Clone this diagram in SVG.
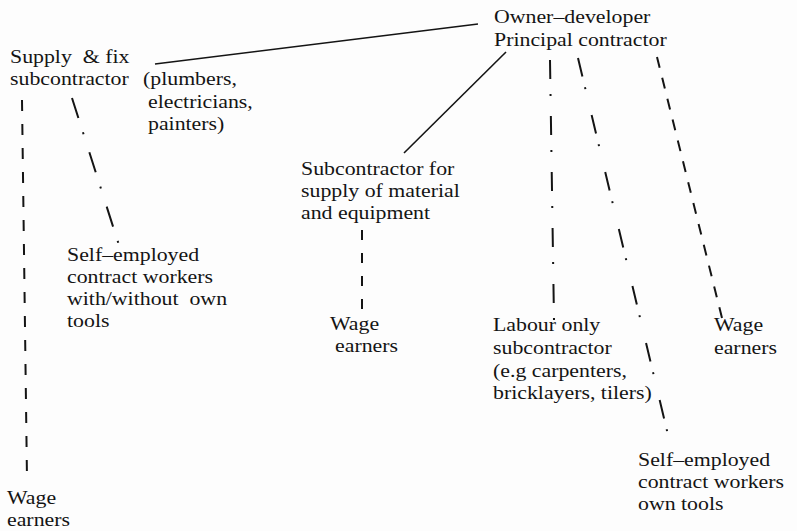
<svg xmlns="http://www.w3.org/2000/svg" width="797" height="531" viewBox="0 0 797 531">
<style>
text{font-family:"Liberation Serif","Times New Roman",serif;font-size:19.5px;fill:#141414}
.solid{fill:none;stroke:#141414;stroke-width:1.6}
.dash{fill:none;stroke:#141414;stroke-width:2;stroke-dasharray:11 12}
.dd{fill:none;stroke:#141414;stroke-width:2;stroke-dasharray:20 14 2 21}
</style>
<rect width="797" height="531" fill="#fdfdfd"/>
<g id="connectors">
<path class="solid" d="M155 64 L478 24"/>
<path class="solid" d="M404 153 L506 52"/>
<path class="dash" d="M22 100 L27 479" style="stroke-dasharray:11 13"/>
<path class="dd" d="M72 98 L118.3 243" style="stroke-dasharray:21 15 2 19"/>
<path class="dash" d="M362 230 L362 310" style="stroke-dasharray:10 13"/>
<path class="dd" d="M550 60 L554 320" style="stroke-dasharray:19 15 2 20"/>
<path class="dd" d="M578 58 L667.3 432" style="stroke-dasharray:19 11 2 26.6"/>
<path class="dash" d="M657 57 L722 318" style="stroke-dasharray:11 10.5"/>
</g>
<g id="owner" transform="translate(494 0) scale(1.12 1)">
<text x="0" y="23">Owner–developer<tspan x="0" dy="23">Principal contractor</tspan></text>
</g>
<g id="supply-fix" transform="translate(10 0) scale(1.12 1)">
<text x="0" y="63" xml:space="preserve">Supply  &amp; fix<tspan x="0" dy="22">subcontractor</tspan><tspan x="118.75" dy="0">(plumbers,</tspan><tspan x="123.2" dy="23">electricians,</tspan><tspan x="123.2" dy="22">painters)</tspan></text>
</g>
<g id="supply-material" transform="translate(301 0) scale(1.12 1)">
<text x="0" y="175">Subcontractor for<tspan x="0" dy="22">supply of material</tspan><tspan x="0" dy="22">and equipment</tspan></text>
</g>
<g id="self-employed-left" transform="translate(67 0) scale(1.12 1)">
<text x="0" y="261" xml:space="preserve">Self–employed<tspan x="0" dy="22">contract workers</tspan><tspan x="0" dy="22">with/without  own</tspan><tspan x="0" dy="22">tools</tspan></text>
</g>
<g id="wage-middle" transform="translate(330 0) scale(1.12 1)">
<text x="0" y="330">Wage<tspan x="4.5" dy="22">earners</tspan></text>
</g>
<g id="labour-only" transform="translate(493 0) scale(1.12 1)">
<text x="0" y="331">Labour only<tspan x="0" dy="23">subcontractor</tspan><tspan x="0" dy="23">(e.g carpenters,</tspan><tspan x="0" dy="22">bricklayers, tilers)</tspan></text>
</g>
<g id="wage-right" transform="translate(714 0) scale(1.12 1)">
<text x="0" y="331">Wage<tspan x="0" dy="23">earners</tspan></text>
</g>
<g id="self-employed-right" transform="translate(638 0) scale(1.12 1)">
<text x="0" y="466">Self–employed<tspan x="0" dy="22">contract workers</tspan><tspan x="0" dy="22">own tools</tspan></text>
</g>
<g id="wage-left" transform="translate(7 0) scale(1.12 1)">
<text x="0" y="504">Wage<tspan x="0" dy="22">earners</tspan></text>
</g>
</svg>
